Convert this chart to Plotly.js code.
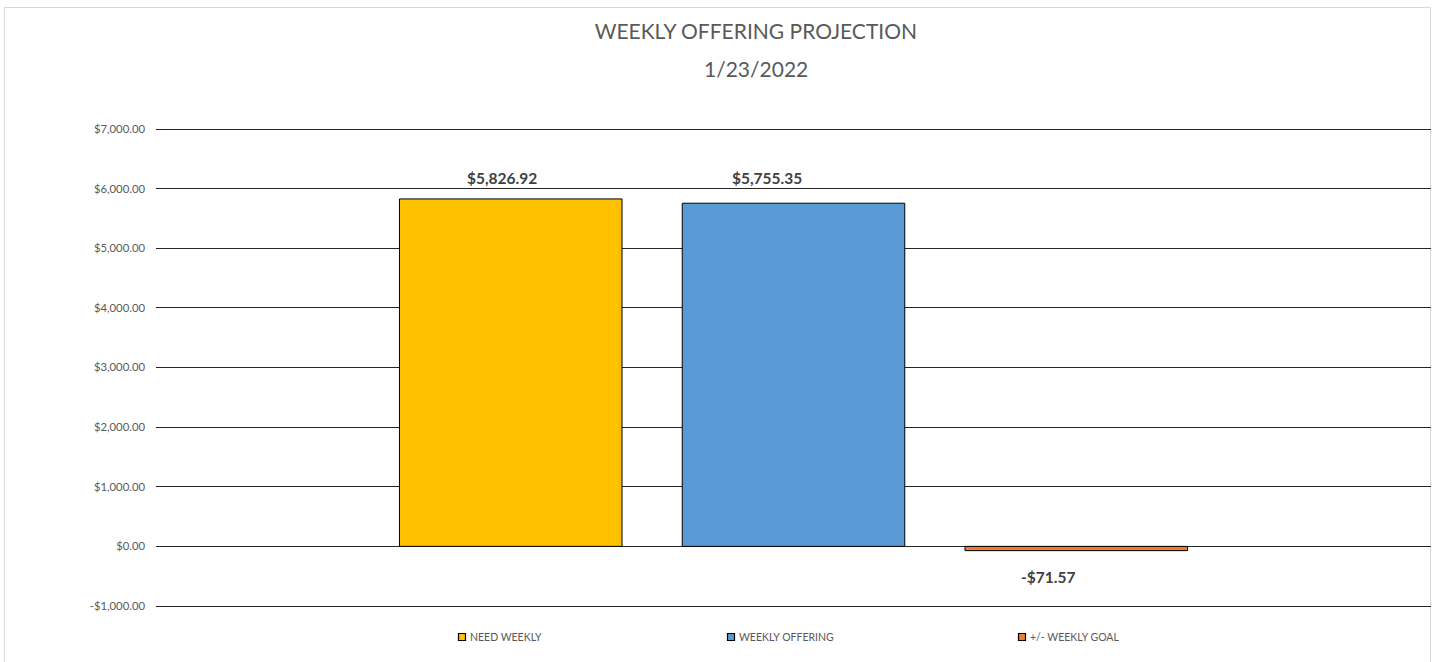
<!DOCTYPE html>
<html>
<head>
<meta charset="utf-8">
<script src="https://cdn.plot.ly/plotly-3.0.1.min.js"></script>
<style>
  html, body { margin: 0; padding: 0; background: #ffffff; }
  #wrap { position: relative; width: 1437px; height: 662px; overflow: hidden; background: #ffffff; }
  #frame { position: absolute; left: 4px; top: 7px; width: 1427px; height: 670px; border: 1px solid #d9d9d9; box-sizing: border-box; }
  #chart { position: absolute; left: 0; top: 0; width: 1437px; height: 662px; }
</style>
</head>
<body>
<div id="wrap">
  <div id="frame"></div>
  <div id="chart"></div>
</div>
<script>
// ---- data ----
const category = ['Week'];
const seriesNames = ['NEED WEEKLY', 'WEEKLY OFFERING', '+/- WEEKLY GOAL'];
const needWeekly = [5826.92];
const weeklyOffering = [5755.35];
const weeklyGoalDiff = [-71.57];
const seriesColors = ['#FFC000', '#5B9BD5', '#ED7D31'];
const yTicks = [-1000, 0, 1000, 2000, 3000, 4000, 5000, 6000, 7000];
const titleLine1 = 'WEEKLY OFFERING PROJECTION';
const titleLine2 = '1/23/2022';

function money(v) {
  const s = Math.abs(v).toLocaleString('en-US', {minimumFractionDigits: 2, maximumFractionDigits: 2});
  return (v < 0 ? '-$' : '$') + s;
}

const FONT = 'Lato, "Open Sans", "DejaVu Sans", sans-serif';
const GRAY = '#595959';
const seriesValues = [needWeekly, weeklyOffering, weeklyGoalDiff];
const legendIds = ['legend', 'legend2', 'legend3'];
// label placement tweaks (pixels) as in the original chart
const labelDx = [-9, -27, -28];
const labelDy = [21, 25, -26];

const traces = seriesValues.map((vals, i) => ({
  type: 'bar',
  name: seriesNames[i],
  x: category,
  y: vals,
  marker: { color: seriesColors[i], line: { color: '#000000', width: 1 } },
  legend: legendIds[i],
  hoverinfo: 'skip'
}));

const plotW = 1275, bargap = 0.3347;
const slot = plotW * (1 - bargap) / 3;

// y range padded by 3px so the first and last gridlines are drawn
const yMin = yTicks[0], yMax = yTicks[yTicks.length - 1];
const pxPerUnit = 477 / (yMax - yMin);
const yPad = 3 / pxPerUnit;

const annotations = [];
seriesValues.forEach((vals, i) => {
  vals.forEach((v, j) => {
    annotations.push({
      xref: 'x', yref: 'y', x: category[j], y: v,
      xshift: (i - 1) * slot + labelDx[i],
      yshift: labelDy[i],
      text: '<b>' + money(v) + '</b>',
      showarrow: false,
      xanchor: 'center', yanchor: 'middle',
      font: { family: FONT, size: 15.5, color: '#404040' }
    });
  });
});
annotations.push({
  xref: 'paper', yref: 'paper', x: (756 - 156) / 1275, y: (609 - 68) / 483,
  text: titleLine2, showarrow: false, xanchor: 'center', yanchor: 'middle',
  font: { family: FONT, size: 21, color: GRAY }
});

const legendBase = {
  orientation: 'h', yref: 'paper', y: (609 - 637) / 483, yanchor: 'middle', xanchor: 'left',
  font: { family: FONT, size: 10.5, color: GRAY },
  bgcolor: 'rgba(0,0,0,0)', itemwidth: 30, itemclick: false, itemdoubleclick: false
};

const layout = {
  width: 1437, height: 662,
  margin: { l: 156, r: 6, t: 126, b: 53, pad: 0 },
  paper_bgcolor: 'rgba(0,0,0,0)',
  plot_bgcolor: 'rgba(0,0,0,0)',
  barmode: 'group',
  bargap: bargap,
  bargroupgap: 0.213,
  title: {
    text: titleLine1,
    x: 0.526, xref: 'container', xanchor: 'center',
    y: 1 - 32 / 662, yref: 'container', yanchor: 'middle',
    font: { family: FONT, size: 21, color: GRAY }
  },
  xaxis: {
    type: 'category', showticklabels: false, showgrid: false, zeroline: false,
    showline: false, ticks: ''
  },
  yaxis: {
    range: [yMin - yPad, yMax + yPad],
    tickvals: yTicks,
    ticktext: yTicks.map(money),
    tickfont: { family: FONT, size: 11.3, color: GRAY },
    showgrid: true, gridcolor: '#262626', gridwidth: 1,
    zeroline: true, zerolinecolor: '#262626', zerolinewidth: 1,
    showline: false, ticks: '', ticklabelstandoff: 10
  },
  showlegend: true,
  legend: Object.assign({}, legendBase, { x: (430 - 156) / 1275 }),
  legend2: Object.assign({}, legendBase, { x: (699 - 156) / 1275 }),
  legend3: Object.assign({}, legendBase, { x: (990 - 156) / 1275 }),
  annotations: annotations
};

Plotly.newPlot('chart', traces, layout, { displayModeBar: false, staticPlot: true }).then(function (gd) {
  // small square swatches placed close to the legend text, as in the original
  gd.querySelectorAll('.legendpoints path').forEach(function (p) {
    p.setAttribute('d', 'M3.5,3.5H-3.5V-3.5H3.5Z');
    p.setAttribute('transform', 'translate(32,0)');
    p.style.strokeWidth = '1.2px';
    p.style.stroke = '#000000';
  });
});
</script>
</body>
</html>
